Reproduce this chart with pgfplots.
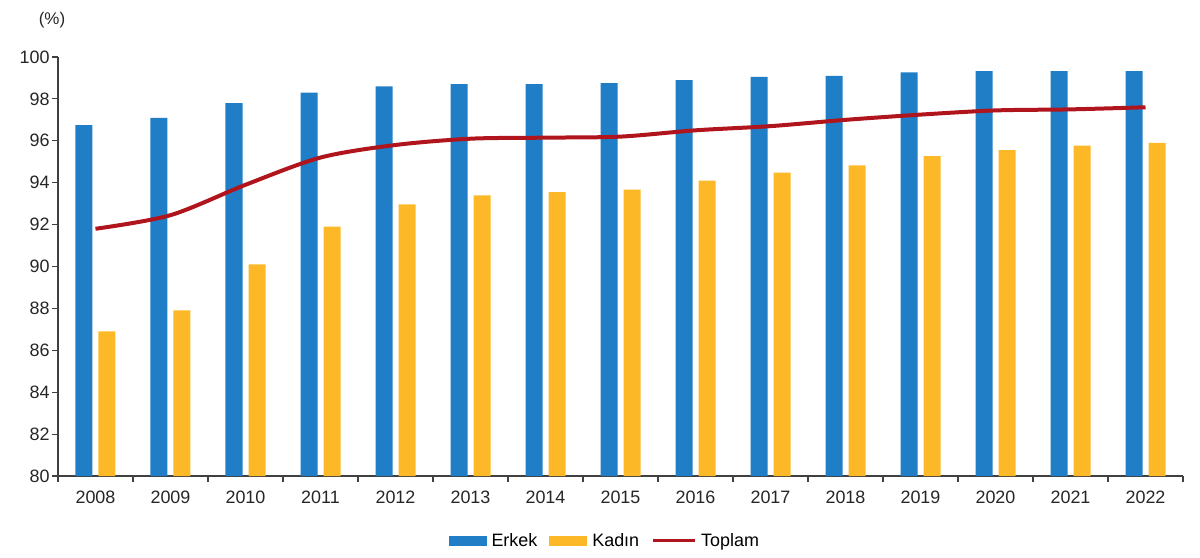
\documentclass[border=0pt]{standalone}
\usepackage{fontspec}
\setmainfont{Liberation Sans}
\usepackage{pgfplots}
\pgfplotsset{compat=1.18}
\definecolor{erkek}{HTML}{1F7EC6}
\definecolor{kadin}{HTML}{FDB827}
\definecolor{toplam}{HTML}{B0141C}
\definecolor{axisgray}{HTML}{404040}
\newcommand{\lbl}{\fontsize{18}{20}\selectfont}

\begin{document}
\begin{tikzpicture}
\begin{axis}[
  scale only axis, width=1125bp, height=419bp,
  xmin=-0.5, xmax=14.5, ymin=80, ymax=100,
  axis lines*=left,
  axis line style={axisgray, line width=1.3bp},
  tick align=outside,
  ytick={80,82,...,100},
  xtick={0,...,14},
  xticklabels={2008,2009,2010,2011,2012,2013,2014,2015,2016,2017,2018,2019,2020,2021,2022},
  minor xtick={-0.5,0.5,...,14.5},
  major x tick style={draw=none},
  major tick length=6bp, minor tick length=6bp,
  every tick/.style={axisgray, line width=1.1bp},
  ticklabel style={font=\lbl, text=black!85},
  /pgf/number format/assume math mode=true,
  yticklabel style={xshift=1bp},
  xticklabel style={yshift=-5bp},
  legend columns=3,
  legend style={draw=none, at={(0.486,-0.155)}, anchor=center, font=\lbl,
    /tikz/every odd column/.append style={column sep=3bp},
    /tikz/every even column/.append style={column sep=10bp}},
]
\addplot[ybar, bar width=17bp, bar shift=-11.5bp, fill=erkek, draw=none,
  legend image code/.code={\fill[erkek] (0bp,-5bp) rectangle (38bp,5bp);}]
  coordinates {(0,96.75) (1,97.1) (2,97.8) (3,98.3) (4,98.6) (5,98.7) (6,98.7) (7,98.75) (8,98.9) (9,99.05) (10,99.1) (11,99.27) (12,99.33) (13,99.33) (14,99.33)};
\addplot[ybar, bar width=17bp, bar shift=11.5bp, fill=kadin, draw=none,
  legend image code/.code={\fill[kadin] (0bp,-5bp) rectangle (38bp,5bp);}]
  coordinates {(0,86.9) (1,87.9) (2,90.1) (3,91.9) (4,92.97) (5,93.4) (6,93.55) (7,93.67) (8,94.1) (9,94.48) (10,94.83) (11,95.27) (12,95.55) (13,95.77) (14,95.9)};
\addplot[toplam, line width=4bp, smooth, mark=none,
  legend image code/.code={\draw[toplam, line width=3bp] (0bp,0bp) -- (42bp,0bp);}]
  coordinates {(0,91.8) (1,92.45) (2,93.9) (3,95.2) (4,95.8) (5,96.1) (6,96.15) (7,96.2) (8,96.5) (9,96.7) (10,97.0) (11,97.25) (12,97.45) (13,97.5) (14,97.6)};
\legend{Erkek,Kadın,Toplam}
\end{axis}
\node[font=\fontsize{17}{19}\selectfont, text=black!85] at (-6bp,456bp) {(\%)};
\pgfresetboundingbox
\path[use as bounding box] (-58bp,-82bp) rectangle (1142bp,476bp);
\end{tikzpicture}
\end{document}
